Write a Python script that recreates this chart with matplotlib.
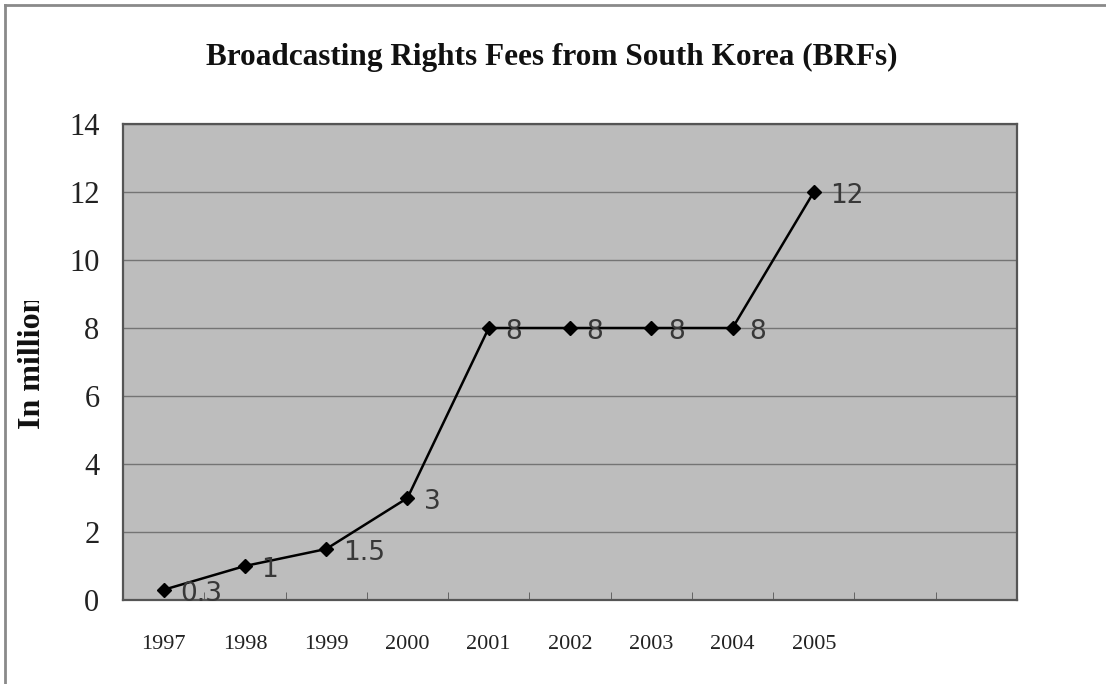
import matplotlib
matplotlib.use("Agg")
import matplotlib.pyplot as plt
from matplotlib.lines import Line2D
from matplotlib.transforms import Bbox

# broadcasting rights fees, millions
years = ["1997", "1998", "1999", "2000", "2001", "2002", "2003", "2004", "2005"]
fees = [0.3, 1, 1.5, 3, 8, 8, 8, 8, 12]
fee_labels = ["0.3", "1", "1.5", "3", "8", "8", "8", "8", "12"]
n_slots = 11  # category slots on the axis, last two left empty
y_ticks = [0, 2, 4, 6, 8, 10, 12, 14]

W, H = 1106, 684
fig = plt.figure(figsize=(W / 100, H / 100), dpi=100)
ax = fig.add_axes([123 / W, 1 - 600 / H, (1017 - 123) / W, (600 - 124) / H])

ax.set_facecolor("#bdbdbd")
ax.set_xlim(-0.5, n_slots - 0.5)
ax.set_ylim(0, 14)

ax.set_yticks(y_ticks)
ax.yaxis.grid(True, color="#747474", linewidth=1.0)
ax.set_axisbelow(True)

xs = list(range(len(years)))
ax.set_xticks(xs)
ax.set_xticklabels(years)
ax.set_xticks([i + 0.5 for i in range(n_slots - 1)], minor=True)
ax.tick_params(axis="x", which="major", length=0, pad=25)
ax.tick_params(axis="x", which="minor", direction="in", length=6, color="#555555")
ax.tick_params(axis="y", length=0, pad=17)
for lab in ax.get_xticklabels():
    lab.set_fontfamily("Liberation Serif")
    lab.set_fontsize(16)
    lab.set_color("#222222")
for lab in ax.get_yticklabels():
    lab.set_fontfamily("Liberation Serif")
    lab.set_fontsize(22)
    lab.set_color("#222222")

for side in ["left", "bottom", "right", "top"]:
    ax.spines[side].set_color("#555555")
    ax.spines[side].set_linewidth(1.6)

ax.plot(xs, fees, color="black", linewidth=1.8, marker="D", markersize=7,
        markerfacecolor="black", markeredgecolor="black", clip_on=False, zorder=3)

for x, v, t in zip(xs, fees, fee_labels):
    ax.annotate(t, (x, v), xytext=(12, -3), textcoords="offset points",
                ha="left", va="center", fontsize=19, color="#383838",
                family="Liberation Sans Narrow", zorder=4)

fig.text(0.499, 1 - 57 / H, "Broadcasting Rights Fees from South Korea (BRFs)",
         ha="center", va="center", fontsize=22.5, fontweight="bold",
         family="Liberation Serif", color="#111111")

ylab = fig.text(33 / W, 1 - 362 / H, "In million", rotation=90,
                ha="center", va="center", fontsize=23, fontweight="bold",
                family="Liberation Serif", color="#111111")
# the label runs past the top of its box and gets cut (display pixels)
ylab.set_clip_box(Bbox.from_extents(0, 0, 90, H - 301))
ylab.set_clip_on(True)

# outer frame of the chart
fig.add_artist(Line2D([5 / W, 5 / W], [0, 1 - 5 / H], color="#8a8a8a",
                      linewidth=2, transform=fig.transFigure))
fig.add_artist(Line2D([5 / W, 1], [1 - 5 / H, 1 - 5 / H], color="#8a8a8a",
                      linewidth=2, transform=fig.transFigure))

fig.savefig("out.png", dpi=100, facecolor="white")
